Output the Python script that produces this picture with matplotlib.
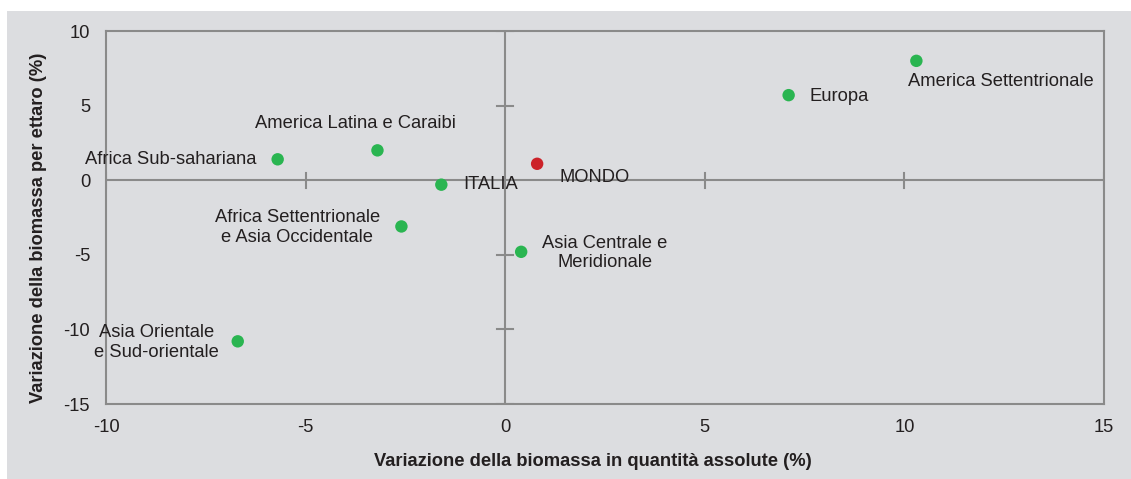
import matplotlib
matplotlib.use("Agg")
import matplotlib.pyplot as plt
from matplotlib.patches import Rectangle

plt.rcParams["font.family"] = ["Liberation Sans", "DejaVu Sans"]
plt.rcParams["axes.unicode_minus"] = False

# dati
regioni = [
    "America Settentrionale",
    "Europa",
    "America Latina e Caraibi",
    "Africa Sub-sahariana",
    "ITALIA",
    "MONDO",
    "Africa Settentrionale\ne Asia Occidentale",
    "Asia Centrale e\nMeridionale",
    "Asia Orientale\ne Sud-orientale",
]
var_assoluta = [10.3, 7.1, -3.2, -5.7, -1.6, 0.8, -2.6, 0.4, -6.7]
var_ettaro = [8.0, 5.7, 2.0, 1.4, -0.3, 1.1, -3.1, -4.8, -10.8]

# posizione etichette (pixel rispetto al punto) e allineamento
offsets = [(84, -21), (21, -1), (-22, 27), (-21, 0), (22, 0), (22, -14),
           (-104, -1), (84, -1), (-81, -1)]
allinea = ["center", "left", "center", "right", "left", "left",
           "center", "center", "center"]

verde = "#2ab551"
rosso = "#cc2229"
grigio = "#8a8a8a"
sfondo = "#dcdde0"
testo = "#231f20"

fig = plt.figure(figsize=(11.31, 4.79), dpi=100)
fig.patch.set_facecolor("white")
fig.patches.append(Rectangle((7 / 1131, 0), 1 - 7 / 1131, 1 - 11 / 479,
                             transform=fig.transFigure, facecolor=sfondo,
                             edgecolor="none", zorder=-10))

ax = fig.add_axes([106 / 1131, 1 - 404 / 479, 998 / 1131, 373 / 479])
ax.set_facecolor(sfondo)

colori = [rosso if r == "MONDO" else verde for r in regioni]
ax.scatter(var_assoluta, var_ettaro, s=80, c=colori, edgecolors="none", zorder=3)

for r, x, y, off, ha in zip(regioni, var_assoluta, var_ettaro, offsets, allinea):
    ax.annotate(r, (x, y), xytext=off, textcoords="offset pixels",
                ha=ha, va="center", multialignment="center",
                fontsize=13.2, color=testo, zorder=4)

ax.set_xlim(-10, 15)
ax.set_ylim(-15, 10)

# linee degli assi a zero con tacche
ax.axhline(0, color=grigio, lw=1.5, zorder=2)
ax.axvline(0, color=grigio, lw=1.5, zorder=2)
for xt in [-10, -5, 5, 10, 15]:
    ax.plot([xt, xt], [-0.5, 0.5], color=grigio, lw=1.5, zorder=2)
for yt in [-15, -10, -5, 5, 10]:
    ax.plot([-0.2, 0.2], [yt, yt], color=grigio, lw=1.5, zorder=2)

for s in ax.spines.values():
    s.set_color(grigio)
    s.set_linewidth(1.5)

ax.set_xticks([-10, -5, 0, 5, 10, 15])
ax.set_yticks([-15, -10, -5, 0, 5, 10])
ax.tick_params(length=0, labelsize=13.2, labelcolor=testo)
ax.tick_params(axis="x", pad=11)
ax.tick_params(axis="y", pad=11.5)

ax.set_xlabel("Variazione della biomassa in quantità assolute (%)",
              fontsize=13.2, fontweight="bold", color=testo)
ax.set_ylabel("Variazione della biomassa per ettaro (%)",
              fontsize=13.2, fontweight="bold", color=testo)
ax.xaxis.set_label_coords(0.488, -0.131)
ax.yaxis.set_label_coords(-0.059, 0.472)

fig.savefig("out.png", dpi=100, facecolor=fig.get_facecolor())
